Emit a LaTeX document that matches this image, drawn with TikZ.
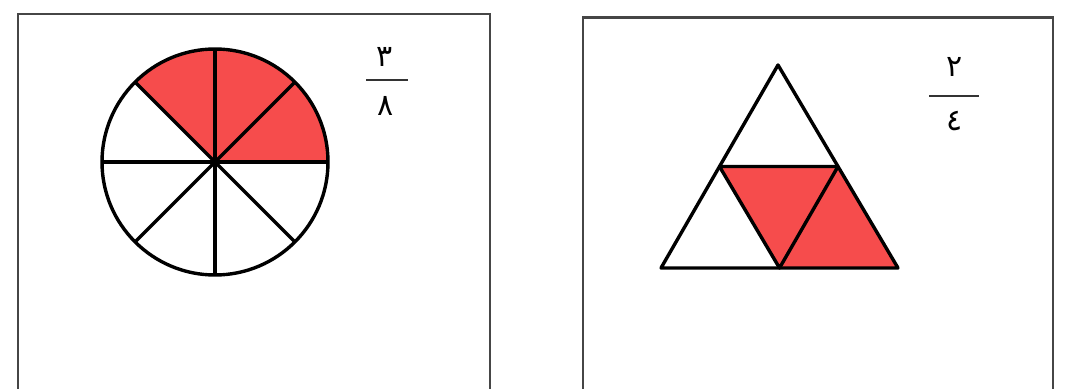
\documentclass[tikz,border=0pt]{standalone}
\usepackage{fontspec}
\TeXXeTstate=1
\newfontfamily\arabicfont[Script=Arabic]{DejaVu Sans}
\definecolor{fracred}{RGB}{246,76,76}
\definecolor{boxgray}{RGB}{70,70,70}
\tikzset{
  frame/.style={draw=boxgray, line width=2.2pt},
  shape line/.style={draw=black, line width=3.4pt, line join=round},
  digit/.style={font=\arabicfont\fontsize{30}{30}\selectfont, inner sep=0pt},
  fracbar/.style={draw=black!80, line width=1.8pt}
}
\begin{document}
\begin{tikzpicture}[x=1pt,y=-1pt]
\useasboundingbox[fill=white] (0,0) rectangle (1067,388);
% frames (open at the bottom)
\draw[frame] (18,390) -- (18,14) -- (490,14) -- (490,390);
\draw[frame] (583,390) -- (583,17) -- (1053,17) -- (1053,390);
\draw[draw=boxgray, line width=3pt] (583,17) -- (1053,17);
% circle
\coordinate (c) at (215,162);
\fill[fracred] (c) -- +(113,0) arc[start angle=0, end angle=-135, radius=113] -- cycle;
\foreach \a in {0,45,...,315} \draw[shape line] (c) -- +(\a:113);
\draw[shape line] (c) circle[radius=113];
% fraction 3/8
\node[digit] (n1) at (385,57) {\beginR ٣\endR};
\coordinate (b1l) at (366,80);
\coordinate (b1r) at (408,80);
\draw[fracbar] (b1l) -- (b1r);
\node[digit] (d1) at (386,106) {\beginR ٨\endR};
% triangle
\coordinate (A) at (778,65);
\coordinate (B) at (661,268);
\coordinate (C) at (898,268);
\coordinate (L) at (719.5,166.5);
\coordinate (R) at (838,166.5);
\coordinate (M) at (779.5,268);
\fill[fracred] (L) -- (R) -- (C) -- (M) -- cycle;
\draw[shape line] (A) -- (B) -- (C) -- cycle;
\draw[shape line] (L) -- (R) -- (M) -- cycle;
% fraction 2/4
\node[digit] (n2) at (955,67) {\beginR ٢\endR};
\coordinate (b2l) at (929,96);
\coordinate (b2r) at (979,96);
\draw[fracbar] (b2l) -- (b2r);
\node[digit] (d2) at (955,121) {\beginR ٤\endR};
\end{tikzpicture}
\end{document}
